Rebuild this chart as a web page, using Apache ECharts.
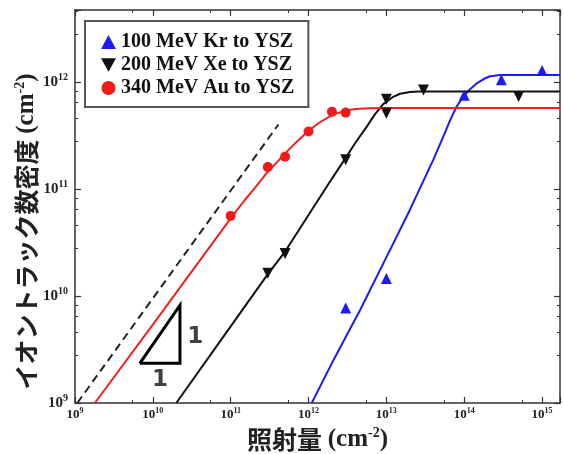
<!DOCTYPE html>
<html>
<head>
<meta charset="utf-8">
<script src="https://cdn.jsdelivr.net/npm/echarts@6/dist/echarts.min.js"></script>
<style>
  html, body { margin: 0; padding: 0; background: #fff; }
  #main { width: 564px; height: 454px; }
</style>
</head>
<body>
<div id="main"></div>
<script>
// 測定点 (照射量 cm^-2, 数密度 cm^-2)
var krName = '100 MeV Kr to YSZ';
var xeName = '200 MeV Xe to YSZ';
var auName = '340 MeV Au to YSZ';

var krPoints = [[3e12, 7.7e9], [1e13, 1.46e10], [1e14, 7.5e11], [3e14, 1.05e12], [1e15, 1.28e12]];
var xePoints = [[3e11, 1.63e10], [5e11, 2.5e10], [3e12, 1.87e11], [1e13, 6.9e11], [1e13, 5.1e11], [3e13, 8.4e11], [5e14, 7.3e11]];
var auPoints = [[1e11, 5.6e10], [3e11, 1.6e11], [5e11, 2.0e11], [1e12, 3.44e11], [2e12, 5.27e11], [3e12, 5.17e11]];

// フィット曲線
var krFit = [[1.1e12, 1.0e9], [2.08e12, 2.5e9], [4.6e12, 7.4e9], [1.01e13, 2.33e10], [2.01e13, 6.4e10],
  [4.0e13, 1.87e11], [5.3e13, 3.0e11], [6.6e13, 4.4e11], [8e13, 5.9e11], [9.75e13, 7.3e11],
  [1.2e14, 8.6e11], [1.45e14, 9.7e11], [1.8e14, 1.07e12], [2.15e14, 1.13e12], [2.9e14, 1.16e12],
  [1.7e15, 1.16e12]];
var xeFit = [[2.0e10, 1.0e9], [1e11, 5.2e9], [3e11, 1.6e10], [5e11, 2.6e10], [1e12, 5.7e10],
  [2e12, 1.25e11], [3e12, 1.95e11], [4e12, 2.7e11], [5.6e12, 3.82e11], [7e12, 4.9e11],
  [9.1e12, 6.2e11], [1.2e13, 7.2e11], [1.5e13, 7.75e11], [2e13, 8.05e11], [2.6e13, 8.15e11],
  [1.7e15, 8.15e11]];
var auFit = [[1.8e9, 1.0e9], [1e10, 5.4e9], [1e11, 5.3e10], [1.5e11, 7.8e10], [2e11, 1.0e11],
  [3e11, 1.45e11], [4e11, 1.8e11], [5e11, 2.15e11], [7e11, 2.75e11], [1e12, 3.5e11],
  [1.4e12, 4.2e11], [2e12, 4.9e11], [3e12, 5.4e11], [4e12, 5.58e11], [6e12, 5.67e11],
  [1e13, 5.7e11], [1.7e15, 5.7e11]];

// 傾き1の補助線と三角形
var guideLine = [[1.07e9, 1.0e9], [4.1e11, 4.0e11]];
var slopeTriangle = [[6.8e9, 2.35e9], [2.23e10, 2.35e9], [2.23e10, 8.2e9], [6.8e9, 2.35e9]];
var slopeLabels = [[3.5e10, 4.1e9], [1.24e10, 1.64e9]];

var xMin = 1e9, xMax = 1.7e15;
var yMin = 1e9, yMax = 4.7e12;

var chart = echarts.init(document.getElementById('main'), null, { renderer: 'canvas' });

function powLabel(v) {
  var e = Math.log10(v);
  if (Math.abs(e - Math.round(e)) > 1e-6) return '';
  return '{b|10}{s|' + Math.round(e) + '}';
}

var serif = 'Liberation Serif';
var cjk = 'Noto Sans CJK JP';
function tickRich(size) {
  return {
    b: { fontFamily: serif, fontWeight: 'bold', fontSize: size, color: '#222' },
    s: { fontFamily: serif, fontWeight: 'bold', fontSize: Math.round(size * 0.65), color: '#222', padding: [0, 0, Math.round(size * 0.6), 0] }
  };
}
var nameRich = {
  c: { fontFamily: cjk, fontWeight: 'bold', fontSize: 25, color: '#222' },
  b: { fontFamily: serif, fontWeight: 'bold', fontSize: 25, color: '#222' },
  s: { fontFamily: serif, fontWeight: 'bold', fontSize: 14, color: '#222', padding: [0, 0, 13, 0] }
};
var axisLine = { show: true, lineStyle: { color: '#333', width: 1.5 } };

function frameAxis(base) {
  return Object.assign({
    type: 'log',
    logBase: 10,
    axisLine: axisLine,
    axisTick: { show: true, inside: true, length: 6, lineStyle: { color: '#333', width: 1.2 } },
    minorTick: { show: true, splitNumber: 2, length: 3, lineStyle: { color: '#333', width: 1 } },
    splitLine: { show: false },
    minorSplitLine: { show: false }
  }, base);
}

var option = {
  animation: false,
  backgroundColor: '#fff',
  grid: { left: 75, right: 4, top: 10, bottom: 51, containLabel: false, outerBoundsMode: 'none' },
  legend: {
    left: 85,
    top: 21,
    orient: 'vertical',
    padding: [11, 14, 9, 16],
    itemGap: 3,
    itemWidth: 15,
    itemHeight: 14,
    borderColor: '#555',
    borderWidth: 2,
    borderRadius: 0,
    backgroundColor: '#fff',
    textStyle: { fontFamily: serif, fontWeight: 'bold', fontSize: 20, lineHeight: 20, color: '#111' },
    data: [
      { name: krName, icon: 'triangle' },
      { name: xeName, icon: 'path://M0,0 L10,0 L5,9 Z' },
      { name: auName, icon: 'circle' }
    ]
  },
  xAxis: [
    frameAxis({
      min: xMin, max: xMax, interval: 1, position: 'bottom',
      name: '{c|照射量 }{b|(cm}{s|-2}{b|)}',
      nameLocation: 'middle',
      nameGap: 23,
      nameMoveOverlap: false,
      nameTextStyle: { rich: nameRich },
      axisLabel: { margin: 4, formatter: powLabel, rich: tickRich(13) }
    }),
    frameAxis({
      min: xMin, max: xMax, interval: 1, position: 'top',
      axisLabel: { show: false }
    })
  ],
  yAxis: [
    frameAxis({
      min: yMin, max: yMax, interval: 1, position: 'left',
      minorTick: { show: true, splitNumber: 5, length: 3, lineStyle: { color: '#333', width: 1 } },
      name: '{c|イオントラック数密度 }{b|(cm}{s|-2}{b|)}',
      nameLocation: 'middle',
      nameGap: 35,
      nameMoveOverlap: false,
      nameTextStyle: { padding: [0, 50, 0, 0], rich: nameRich },
      axisLabel: { margin: 7, formatter: powLabel, rich: tickRich(15) }
    }),
    frameAxis({
      min: yMin, max: yMax, interval: 1, position: 'right',
      minorTick: { show: true, splitNumber: 5, length: 3, lineStyle: { color: '#333', width: 1 } },
      axisLabel: { show: false }
    })
  ],
  series: [
    {
      name: 'guide', type: 'line', data: guideLine, symbol: 'none', silent: true,
      lineStyle: { color: '#222', width: 2, type: [8, 5] }
    },
    {
      name: 'triangle', type: 'line', data: slopeTriangle, symbol: 'none', silent: true,
      lineStyle: { color: '#000', width: 3, join: 'miter' }
    },
    {
      name: 'slope', type: 'scatter', data: slopeLabels, symbolSize: 0, silent: true,
      label: {
        show: true, position: 'inside', formatter: '1',
        fontFamily: 'DejaVu Sans', fontWeight: 'bold', fontSize: 23, color: '#111'
      }
    },
    {
      name: 'krFit', type: 'line', data: krFit, symbol: 'none',
      lineStyle: { color: '#1c1cf0', width: 2 }
    },
    {
      name: 'xeFit', type: 'line', data: xeFit, symbol: 'none',
      lineStyle: { color: '#111', width: 2 }
    },
    {
      name: 'auFit', type: 'line', data: auFit, symbol: 'none',
      lineStyle: { color: '#f02020', width: 2 }
    },
    {
      name: krName, type: 'scatter', data: krPoints, symbol: 'triangle', symbolSize: 11,
      itemStyle: { color: '#1c1cf0', opacity: 1 }, z: 5
    },
    {
      name: xeName, type: 'scatter', data: xePoints, symbol: 'triangle', symbolRotate: 180, symbolSize: 11,
      itemStyle: { color: '#111', opacity: 1 }, z: 5
    },
    {
      name: auName, type: 'scatter', data: auPoints, symbol: 'circle', symbolSize: 10,
      itemStyle: { color: '#f01a1a', opacity: 1 }, z: 5
    }
  ]
};

chart.setOption(option);
</script>
</body>
</html>
